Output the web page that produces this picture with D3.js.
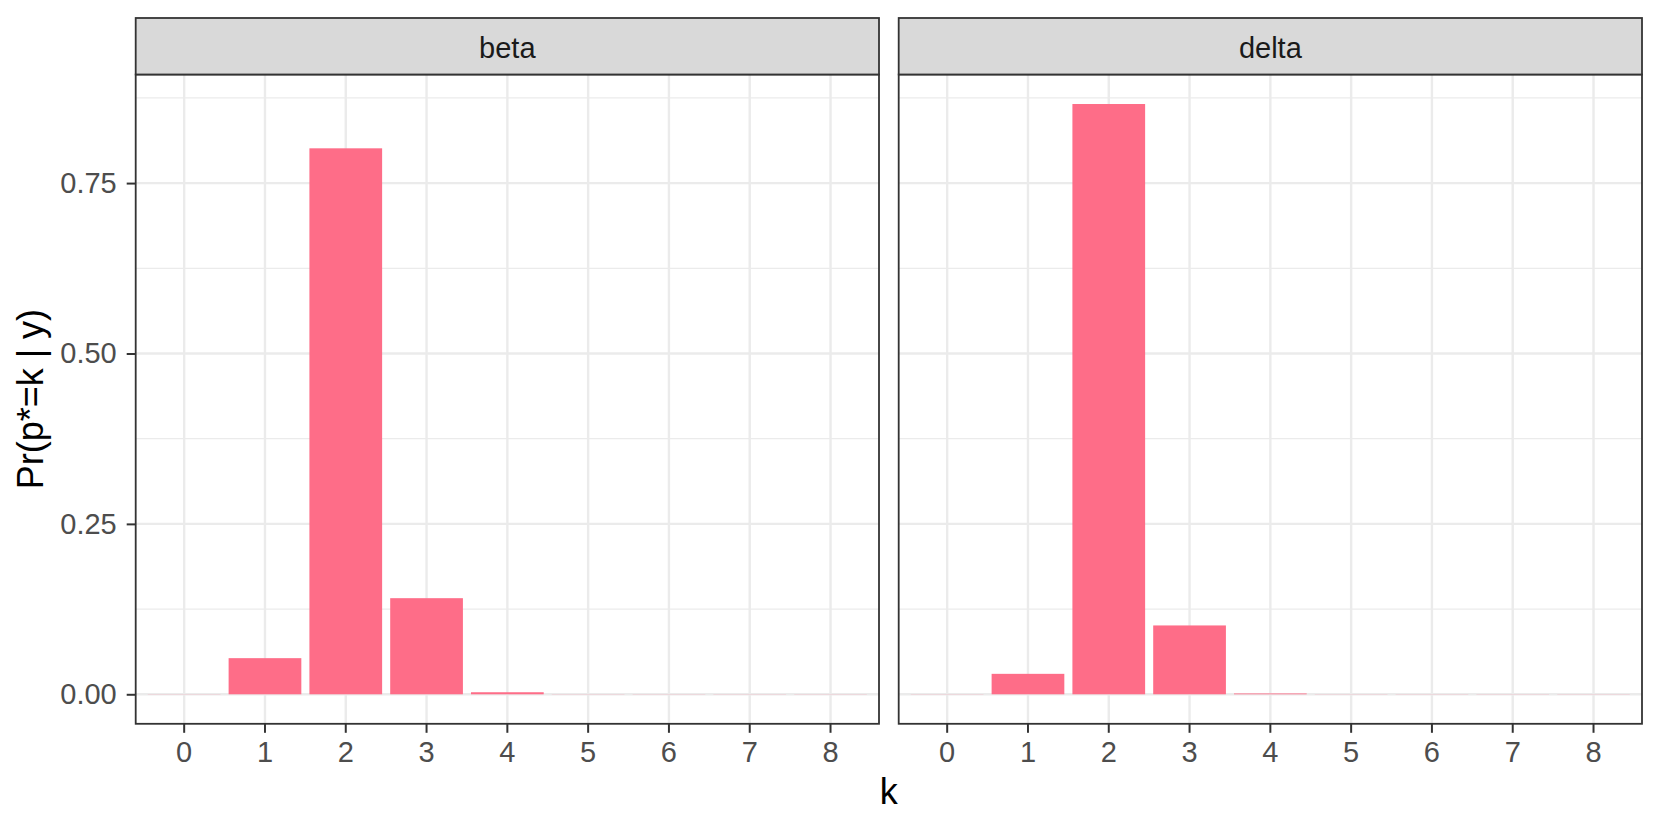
<!DOCTYPE html>
<html>
<head>
<meta charset="utf-8">
<script src="https://cdn.jsdelivr.net/npm/d3@7"></script>
<style>
    body { margin: 0; background: #fff; }
    svg text { font-family: "Liberation Sans", Arial, sans-serif; }
</style>
</head>
<body>
<div id="graph"></div>
<script>
// Data
var kValues    = [ 0, 1, 2, 3, 4, 5, 6, 7, 8 ];
var facetNames = [ 'beta', 'delta' ];
var betaProb   = [ 0.0002, 0.053, 0.801, 0.141, 0.003, 0.0002, 0.0002, 0.0002, 0.0002 ];
var deltaProb  = [ 0.0002, 0.030, 0.866, 0.101, 0.0012, 0.0002, 0.0002, 0.0002, 0.0002 ];
var yMajor     = [ 0, 0.25, 0.5, 0.75 ];
var yMinor     = [ 0.125, 0.375, 0.625, 0.875 ];

var facetData = [ betaProb, deltaProb ];

// Width and height
var overallWidth  = 1661;
var overallHeight = 830;

var panelTop    = 74.5;
var panelBottom = 723.8;
var stripTop    = 18;
var panels = [ { x0: 135.7, x1: 879 },
               { x0: 898.7, x1: 1642 } ];

var barColour  = '#FE6D88';
var gridColour = '#EBEBEB';
var lineColour = '#333333';

var svg = d3.select ('#graph').append ('svg')
            .attr ('width', overallWidth)
            .attr ('height', overallHeight);

// y scale shared, with ggplot style 5% expansion
var yMax = d3.max (facetData, function (d) { return d3.max (d); });
var y = d3.scaleLinear ()
          .domain ([ -0.05 * yMax, yMax * 1.05 ])
          .range ([ panelBottom, panelTop ]);

facetNames.forEach (function (name, p)
{
    var pan = panels[p];

    // discrete x: 0.6 expansion each side, bar width 0.9
    var x = d3.scaleBand ()
              .domain (kValues)
              .range ([ pan.x0, pan.x1 ])
              .paddingInner (0.1)
              .paddingOuter (0.15);

    var g = svg.append ('g');

    g.append ('rect')
     .attr ('x', pan.x0).attr ('y', panelTop)
     .attr ('width', pan.x1 - pan.x0).attr ('height', panelBottom - panelTop)
     .attr ('fill', '#fff');

    // grid lines
    g.selectAll ('.ymin').data (yMinor).enter ().append ('line')
     .attr ('x1', pan.x0).attr ('x2', pan.x1)
     .attr ('y1', function (d) { return y (d); })
     .attr ('y2', function (d) { return y (d); })
     .attr ('stroke', gridColour).attr ('stroke-width', 1.2);

    g.selectAll ('.ymaj').data (yMajor).enter ().append ('line')
     .attr ('x1', pan.x0).attr ('x2', pan.x1)
     .attr ('y1', function (d) { return y (d); })
     .attr ('y2', function (d) { return y (d); })
     .attr ('stroke', gridColour).attr ('stroke-width', 2.4);

    g.selectAll ('.xmaj').data (kValues).enter ().append ('line')
     .attr ('x1', function (d) { return x (d) + x.bandwidth () / 2; })
     .attr ('x2', function (d) { return x (d) + x.bandwidth () / 2; })
     .attr ('y1', panelTop).attr ('y2', panelBottom)
     .attr ('stroke', gridColour).attr ('stroke-width', 2.4);

    // bars
    g.selectAll ('.bar').data (facetData[p]).enter ().append ('rect')
     .attr ('x', function (d, i) { return x (kValues[i]); })
     .attr ('width', x.bandwidth ())
     .attr ('y', function (d) { return y (d); })
     .attr ('height', function (d) { return y (0) - y (d); })
     .attr ('fill', barColour);

    // panel border
    g.append ('rect')
     .attr ('x', pan.x0).attr ('y', panelTop)
     .attr ('width', pan.x1 - pan.x0).attr ('height', panelBottom - panelTop)
     .attr ('fill', 'none')
     .attr ('stroke', lineColour).attr ('stroke-width', 1.8);

    // strip
    g.append ('rect')
     .attr ('x', pan.x0).attr ('y', stripTop)
     .attr ('width', pan.x1 - pan.x0).attr ('height', panelTop - stripTop)
     .attr ('fill', '#D9D9D9')
     .attr ('stroke', lineColour).attr ('stroke-width', 1.8);

    g.append ('text')
     .attr ('x', (pan.x0 + pan.x1) / 2)
     .attr ('y', 58.3)
     .attr ('text-anchor', 'middle')
     .attr ('font-size', 29)
     .attr ('fill', '#1A1A1A')
     .text (name);

    // x axis
    var xAxis = g.append ('g')
                 .attr ('transform', 'translate(0,' + panelBottom + ')')
                 .call (d3.axisBottom (x).tickSize (9).tickPadding (9));
    xAxis.select ('.domain').remove ();
    xAxis.selectAll ('line').attr ('stroke', lineColour).attr ('stroke-width', 2);
    xAxis.selectAll ('text').attr ('font-size', 29).attr ('fill', '#4D4D4D')
         .style ('font-family', '"Liberation Sans", Arial, sans-serif');

    // y axis only on first panel
    if (p == 0)
    {
        var yAxis = g.append ('g')
                     .attr ('transform', 'translate(' + pan.x0 + ',0)')
                     .call (d3.axisLeft (y).tickValues (yMajor)
                                           .tickFormat (d3.format ('.2f'))
                                           .tickSize (9).tickPadding (10));
        yAxis.select ('.domain').remove ();
        yAxis.selectAll ('line').attr ('stroke', lineColour).attr ('stroke-width', 2);
        yAxis.selectAll ('text').attr ('font-size', 29).attr ('fill', '#4D4D4D')
             .style ('font-family', '"Liberation Sans", Arial, sans-serif');
    }
});

// axis titles
svg.append ('text')
   .attr ('x', (panels[0].x0 + panels[1].x1) / 2)
   .attr ('y', 804)
   .attr ('text-anchor', 'middle')
   .attr ('font-size', 36)
   .attr ('fill', '#000')
   .text ('k');

svg.append ('text')
   .attr ('transform', 'translate(43.3,' + ((panelTop + panelBottom) / 2) + ') rotate(-90)')
   .attr ('text-anchor', 'middle')
   .attr ('font-size', 36)
   .attr ('fill', '#000')
   .text ('Pr(p*=k | y)');
</script>
</body>
</html>
